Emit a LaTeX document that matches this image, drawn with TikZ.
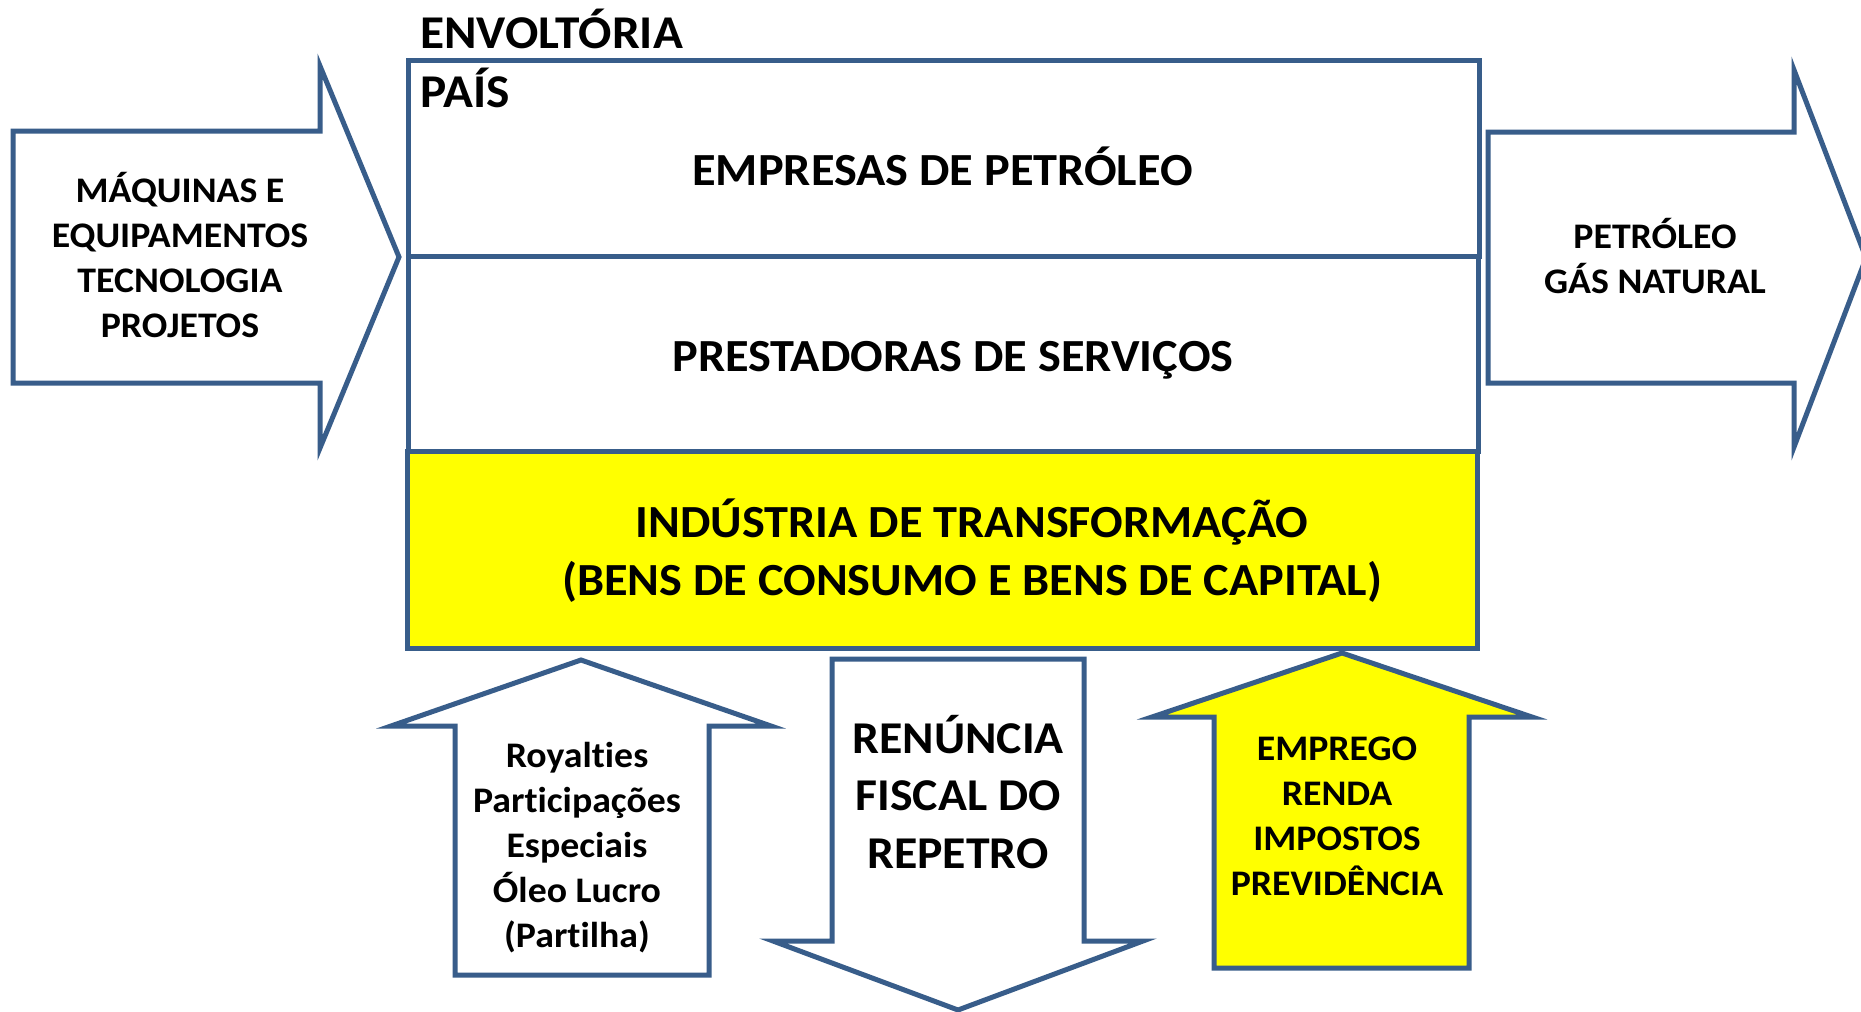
\documentclass[tikz,border=0pt]{standalone}
\usepackage{fontspec}
\setmainfont{Carlito}[FakeStretch=1.05,Ligatures=NoCommon]
\definecolor{bord}{HTML}{385D8A}
\definecolor{yel}{HTML}{FFFF00}
\begin{document}
\begin{tikzpicture}[x=1pt,y=-1pt, line join=miter,
 shp/.style={draw=bord, line width=5pt},
 boxshape/.style={shp, inner sep=0pt},
 lbl/.style={inner sep=0pt, align=center, font=\bfseries\fontsize{36}{45}\selectfont},
 ren/.style={inner sep=0pt, align=center, font=\bfseries\fontsize{45.5}{57.5}\selectfont},
 big/.style={inner sep=0pt, align=center, font=\bfseries\fontsize{46}{58}\selectfont},
 corner/.style={inner sep=0pt, font=\bfseries\fontsize{47}{58}\selectfont}]
\useasboundingbox (0,0) rectangle (1861,1012);
\fill[white] (0,0) rectangle (1861,1012);
% main boxes
\node[boxshape, fill=white, minimum width=1071pt, minimum height=196pt] (emp) at (943.5,158) {};
\node[boxshape, fill=white, minimum width=1070pt, minimum height=195pt] (prest) at (943,353.5) {};
\node[boxshape, fill=yel, minimum width=1070pt, minimum height=197pt] (ind) at (942,549.5) {};
% arrows
\draw[shp, fill=white] (13,131) -- (320,131) -- (320,66) -- (399,257) -- (320,448) -- (320,383) -- (13,383) -- cycle;
\draw[shp, fill=white] (1488,132) -- (1794,132) -- (1794,70) -- (1866,258) -- (1794,447) -- (1794,383) -- (1488,383) -- cycle;
\draw[shp, fill=white] (455,975) -- (455,726) -- (391,726) -- (581,660) -- (771,726) -- (709,726) -- (709,975) -- cycle;
\draw[shp, fill=white] (832,659) -- (1084,659) -- (1084,941) -- (1143,941) -- (958,1010) -- (773,941) -- (832,941) -- cycle;
\draw[shp, fill=yel] (1214,968) -- (1214,717) -- (1152,717) -- (1342,653) -- (1532,717) -- (1469,717) -- (1469,968) -- cycle;
% texts
\node[corner, anchor=base west] (env) at (420,48) {ENVOLTÓRIA};
\node[corner, anchor=base west] (pais) at (420,107) {PAÍS};
\node[big, anchor=base] (empt) at (942.5,185) {EMPRESAS DE PETRÓLEO};
\node[big, anchor=base] (prestt) at (953,371) {PRESTADORAS DE SERVIÇOS};
\node[big, anchor=base] (indt) at (972,595) {INDÚSTRIA DE TRANSFORMAÇÃO\\(BENS DE CONSUMO E BENS DE CAPITAL)};
\node[lbl, anchor=base] (maq) at (180,337) {MÁQUINAS E\\EQUIPAMENTOS\\TECNOLOGIA\\PROJETOS};
\node[lbl, anchor=base] (pet) at (1655,293) {PETRÓLEO\\GÁS NATURAL};
\node[lbl, anchor=base] (roy) at (577,947) {Royalties\\Participações\\Especiais\\Óleo Lucro\\(Partilha)};
\node[ren, anchor=base] (rent) at (958,868) {RENÚNCIA\\FISCAL DO\\REPETRO};
\node[lbl, anchor=base] (empr) at (1337,895) {EMPREGO\\RENDA\\IMPOSTOS\\PREVIDÊNCIA};
\end{tikzpicture}
\end{document}
